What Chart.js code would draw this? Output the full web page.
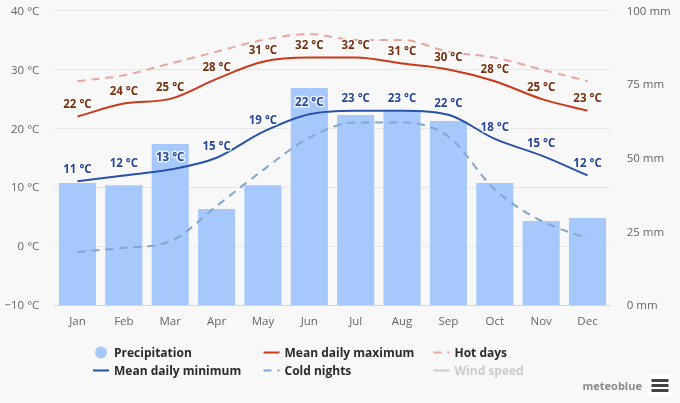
<!DOCTYPE html>
<html><head><meta charset="utf-8">
<style>html,body{margin:0;padding:0;background:#f8f8f8}canvas{display:block}</style>
<script src="https://cdn.jsdelivr.net/npm/chart.js@4"></script></head>
<body><div style="width:680px;height:403px"><canvas id="c" width="680" height="403"></canvas></div>
<script>
const months=["Jan","Feb","Mar","Apr","May","Jun","Jul","Aug","Sep","Oct","Nov","Dec"];
const precipitation=[41.4,40.7,54.7,32.6,40.7,73.7,64.5,65.6,62.5,41.4,28.5,29.5];
const meanMax=[22,24.2,25,28.4,31.3,32,32,31,30,28,25,23];
const meanMin=[11,12,13,15,19.4,22.4,23,23,22.3,18.2,15.4,12];
const hotDays=[28,29,31,33,35,36,35,35,33,32,30,28];
const coldNights=[-1,-0.3,0.8,6.8,12.9,18.4,21,21,18.6,9.6,4.3,1.3];
const windSpeed=[];
const FONT='"Open Sans"';
const labelPlugin={id:'valueLabels',afterDatasetsDraw(ch){
  const c=ch.ctx;c.save();c.font='bold 11.5px '+FONT;c.textAlign='center';c.textBaseline='middle';c.lineJoin='round';
  [[1,'#74300f'],[2,'#28479b']].forEach(([i,col])=>{
    const m=ch.getDatasetMeta(i);
    m.data.forEach((p,k)=>{
      const t=Math.round(ch.data.datasets[i].data[k])+' °C';
      c.lineWidth=3;c.strokeStyle='rgba(255,255,255,0.75)';c.strokeText(t,p.x,p.y-11.5);
      c.fillStyle=col;c.fillText(t,p.x,p.y-11.5);
    });
  });
  c.restore();
}};
const legendPlugin={id:'legendBox',afterDraw(ch){
  const c=ch.ctx;c.save();c.textBaseline='middle';c.textAlign='left';
  const ds=ch.data.datasets;
  const rows=[[114,353,0],[284.5,353,1],[454.5,353,3],[114,371,2],[284.5,371,4],[454.5,371,5]];
  rows.forEach(([x,y,i])=>{
    const d=ds[i];
    c.font='bold 12px '+FONT;
    const hidden=i===5;
    c.fillStyle=hidden?'#cccccc':'#2b2b2b';
    c.fillText(d.label,x,y+1);
    if(i===0){c.beginPath();c.arc(x-13,y-0.5,6,0,Math.PI*2);c.fillStyle=d.backgroundColor;c.fill();}
    else{c.beginPath();c.moveTo(x-21,y-0.5);c.lineTo(x-5,y-0.5);c.lineWidth=2;c.strokeStyle=hidden?'#cccccc':d.borderColor;c.setLineDash(d.borderDash?[8,6]:[]);c.stroke();c.setLineDash([]);}
  });
  c.font='bold 11px '+FONT;c.fillStyle='#8a8a8a';c.fillText('meteoblue',582.5,387);
  c.fillStyle='#ffffff';c.fillRect(648,374,23,22);
  c.fillStyle='#444444';[379,384,389].forEach(y=>c.fillRect(651.5,y,17,3));
  c.restore();
}};
const bg={id:'bg',beforeDraw(ch){const c=ch.ctx;c.save();c.fillStyle='#f8f8f8';c.fillRect(0,0,ch.width,ch.height);c.restore();}};
function fitY(w){return s=>{s.width=w;s.paddingTop=0;s.paddingBottom=0;};}
new Chart(document.getElementById('c'),{
  data:{labels:months,datasets:[
    {type:'bar',label:'Precipitation',data:precipitation,yAxisID:'y1',backgroundColor:'#a6c8fb',barPercentage:0.8,categoryPercentage:1,order:5},
    {type:'line',label:'Mean daily maximum',data:meanMax,yAxisID:'y',borderColor:'#c9391a',borderWidth:2,pointRadius:0,cubicInterpolationMode:'monotone',order:2},
    {type:'line',label:'Mean daily minimum',data:meanMin,yAxisID:'y',borderColor:'#2a52ab',borderWidth:2,pointRadius:0,cubicInterpolationMode:'monotone',order:1},
    {type:'line',label:'Hot days',data:hotDays,yAxisID:'y',borderColor:'#e8a79d',borderWidth:2,borderDash:[8,6],pointRadius:0,cubicInterpolationMode:'monotone',order:4},
    {type:'line',label:'Cold nights',data:coldNights,yAxisID:'y',borderColor:'#7fa6cf',borderWidth:2,borderDash:[8,6],pointRadius:0,cubicInterpolationMode:'monotone',order:3},
    {type:'line',label:'Wind speed',data:windSpeed,yAxisID:'y',borderColor:'#cccccc',borderWidth:2,pointRadius:0,hidden:true,order:6}
  ]},
  options:{responsive:false,animation:false,
    layout:{padding:{top:10.5,left:0,right:0,bottom:0}},
    plugins:{legend:{display:false},tooltip:{enabled:false}},
    scales:{
      x:{offset:true,grid:{display:false,drawTicks:false},border:{color:'#ccd6eb'},
        ticks:{color:'#666666',font:{family:FONT,size:11.5},padding:10,maxRotation:0},
        afterFit(s){s.height=98;}},
      y:{position:'left',min:-10,max:40,grid:{color:'#e6e6e6',drawTicks:false},border:{display:false},
        ticks:{stepSize:10,color:'#666666',font:{family:FONT,size:11.5},padding:15,labelOffset:1,callback:v=>(v<0?'−':'')+Math.abs(v)+' °C'},
        afterFit:fitY(54.3)},
      y1:{position:'right',min:0,max:100,grid:{display:false,drawTicks:false},border:{display:false},
        ticks:{stepSize:25,color:'#666666',font:{family:FONT,size:11.5},padding:16,labelOffset:1,callback:v=>v+' mm'},
        afterFit:fitY(69.3)}
    }
  },
  plugins:[bg,labelPlugin,legendPlugin]
});
</script></body></html>
